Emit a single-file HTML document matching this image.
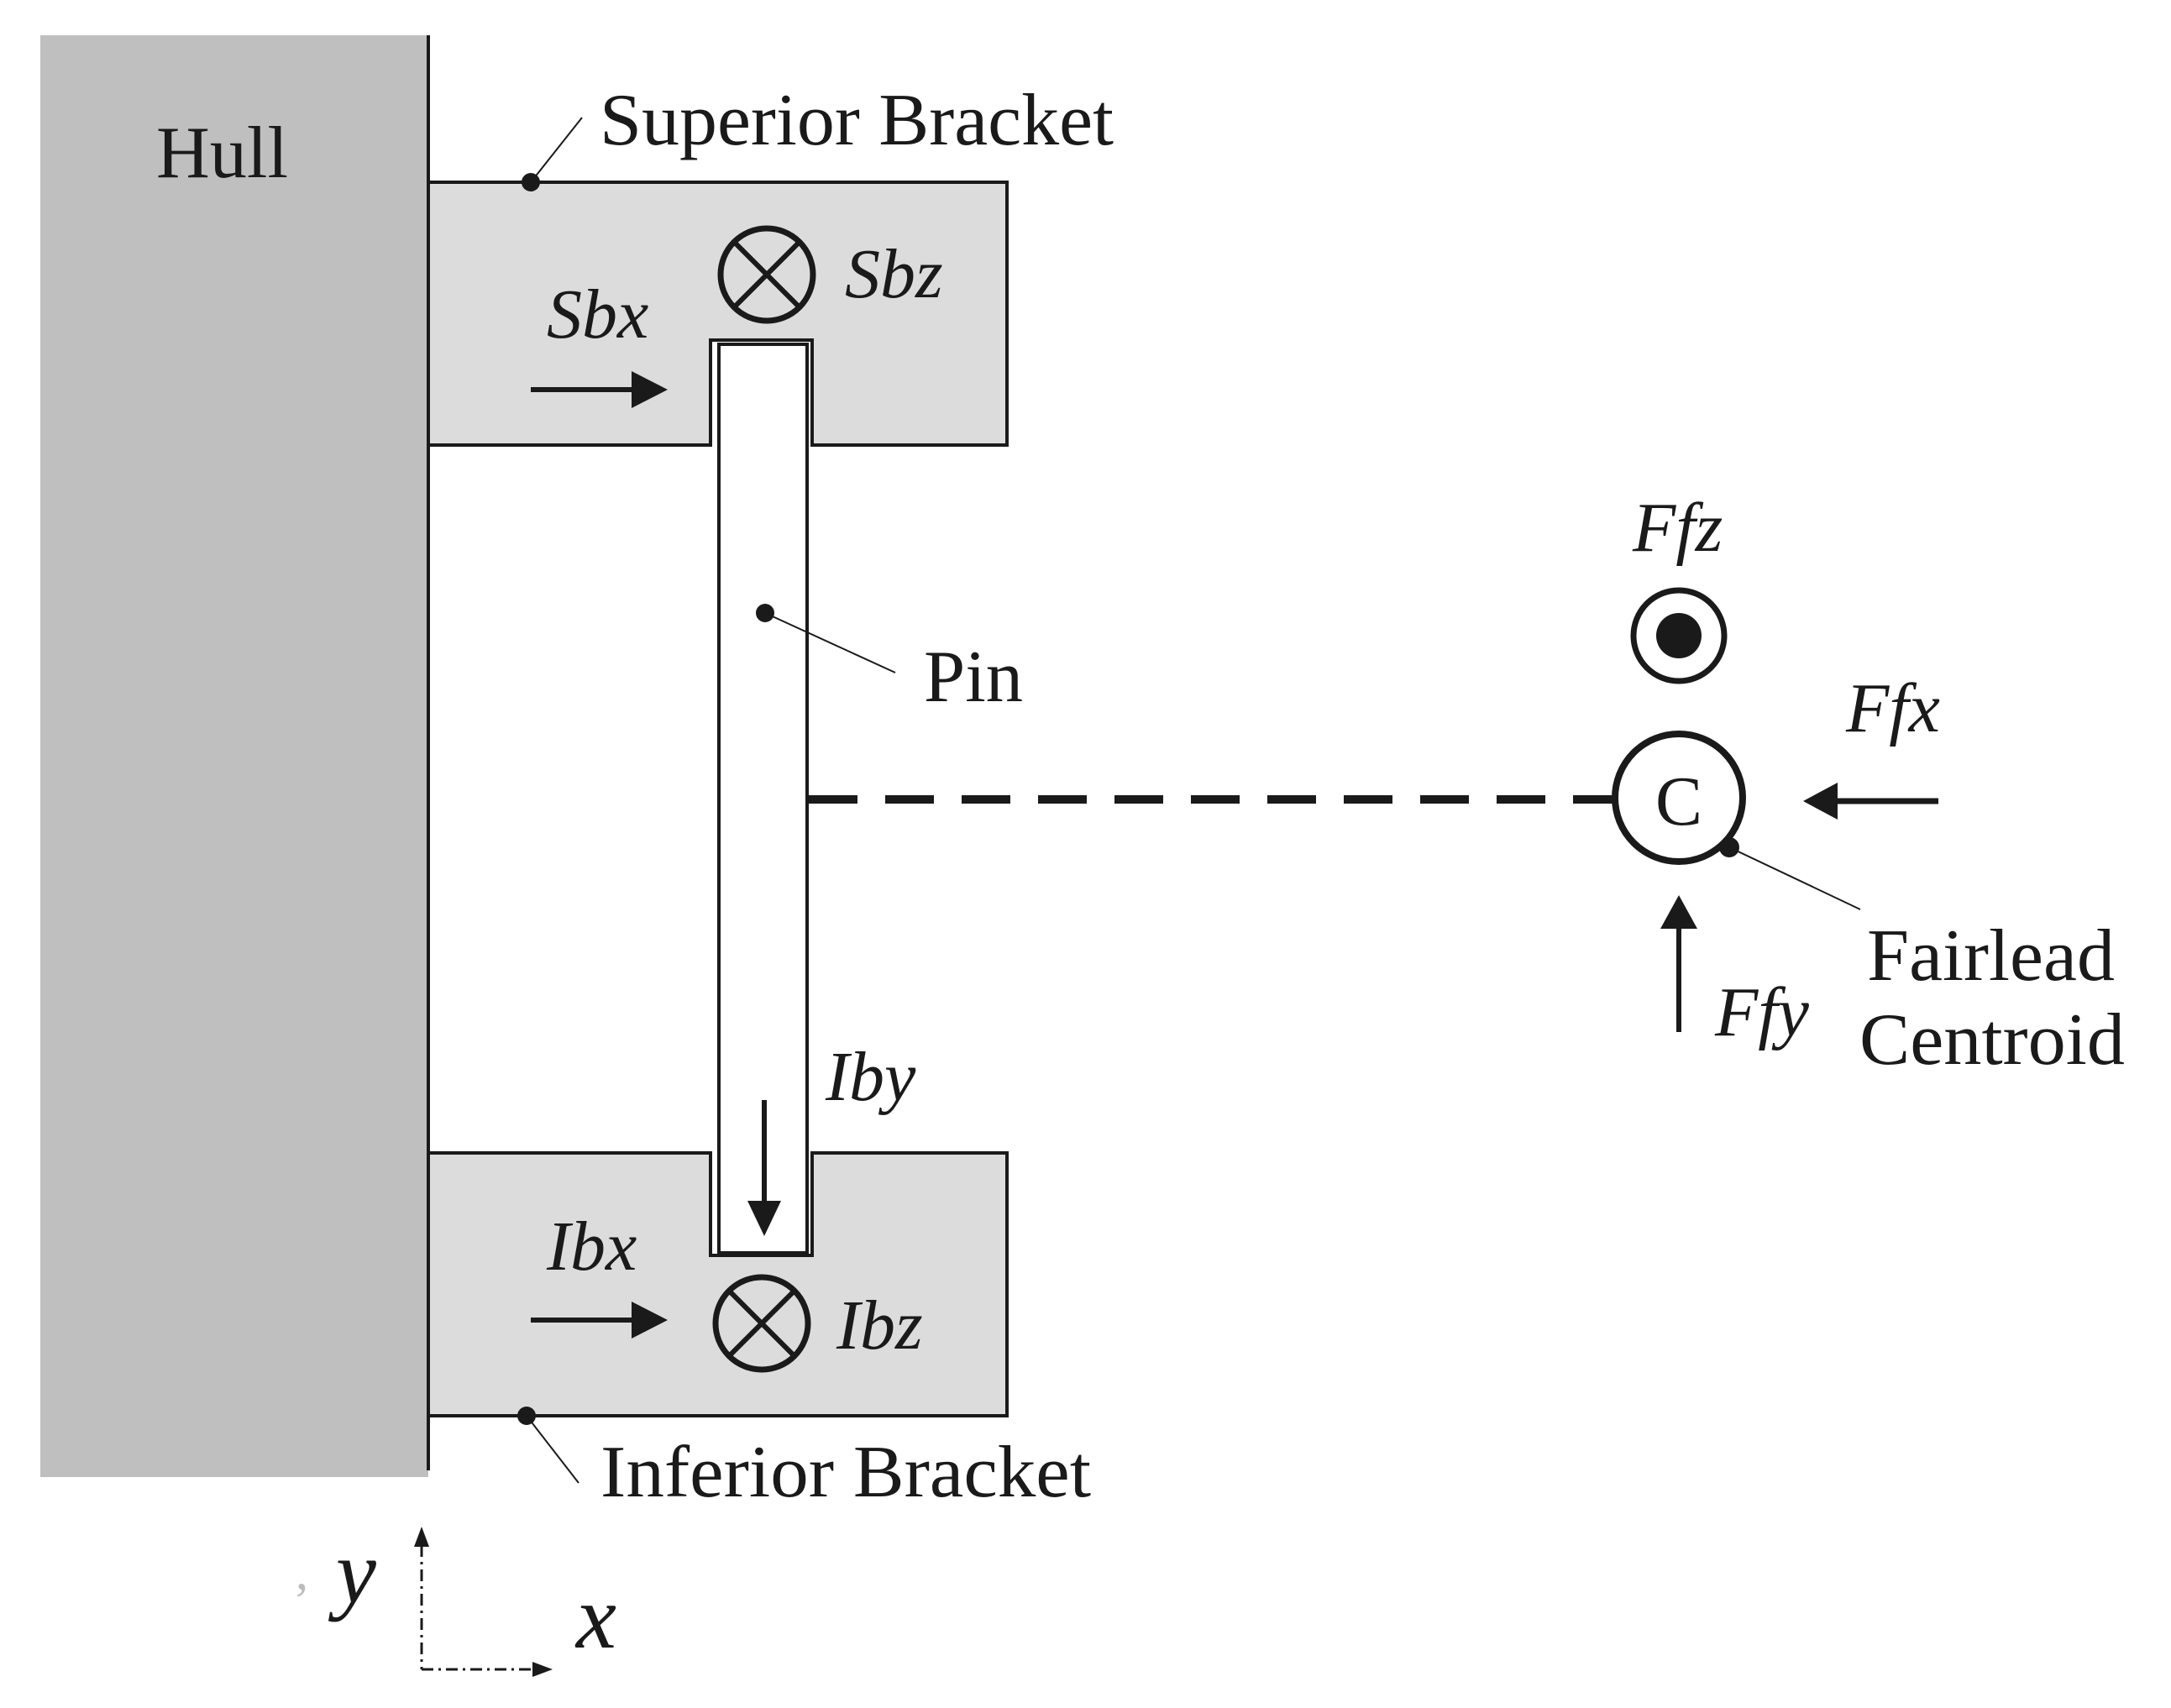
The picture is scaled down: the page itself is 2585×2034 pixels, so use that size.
<!DOCTYPE html>
<html><head><meta charset="utf-8"><style>html,body{margin:0;padding:0;background:#fff}svg{display:block}</style></head>
<body>
<svg width="2585" height="2034" viewBox="0 0 2585 2034" xmlns="http://www.w3.org/2000/svg" font-family="'Liberation Serif', serif" fill="#1a1a1a">
<rect x="48" y="42" width="462" height="1717" fill="#bfbfbf"/>
<line x1="510" y1="42" x2="510" y2="1751" stroke="#1a1a1a" stroke-width="4"/>
<text x="186" y="211" font-size="88" textLength="157" lengthAdjust="spacingAndGlyphs">Hull</text>
<path d="M510 217 H1199 V530 H967 V405 H846 V530 H510 Z" fill="#dcdcdc" stroke="#1a1a1a" stroke-width="4"/>
<path d="M510 1373 H846 V1495 H967 V1373 H1199 V1686 H510 Z" fill="#dcdcdc" stroke="#1a1a1a" stroke-width="4"/>
<rect x="856" y="410" width="105" height="1082" fill="#fff" stroke="#1a1a1a" stroke-width="4"/>
<line x1="963" y1="952" x2="1922" y2="952" stroke="#1a1a1a" stroke-width="10" stroke-dasharray="58 33"/>
<circle cx="632" cy="217" r="11"/>
<line x1="632" y1="217" x2="693" y2="140" stroke="#1a1a1a" stroke-width="2"/>
<text x="714" y="172" font-size="88" textLength="612" lengthAdjust="spacingAndGlyphs">Superior Bracket</text>
<circle cx="627" cy="1686" r="11"/>
<line x1="627" y1="1686" x2="689" y2="1766" stroke="#1a1a1a" stroke-width="2"/>
<text x="715" y="1782" font-size="88" textLength="584" lengthAdjust="spacingAndGlyphs">Inferior Bracket</text>
<circle cx="911" cy="730" r="11"/>
<line x1="911" y1="730" x2="1066" y2="801" stroke="#1a1a1a" stroke-width="2"/>
<text x="1100" y="835" font-size="88" textLength="118" lengthAdjust="spacingAndGlyphs">Pin</text>
<circle cx="913" cy="327" r="55" fill="none" stroke="#1a1a1a" stroke-width="7"/>
<line x1="874" y1="288" x2="952" y2="366" stroke="#1a1a1a" stroke-width="6"/>
<line x1="952" y1="288" x2="874" y2="366" stroke="#1a1a1a" stroke-width="6"/>
<text x="1006" y="354" font-size="84" font-style="italic">Sbz</text>
<text x="651" y="402" font-size="84" font-style="italic">Sbx</text>
<line x1="632" y1="464" x2="760" y2="464" stroke="#1a1a1a" stroke-width="6"/>
<polygon points="752,442 795,464 752,486"/>
<text x="983" y="1310" font-size="84" font-style="italic">Iby</text>
<line x1="910" y1="1310" x2="910" y2="1440" stroke="#1a1a1a" stroke-width="6"/>
<polygon points="890,1430 910,1472 930,1430"/>
<text x="651" y="1512" font-size="84" font-style="italic">Ibx</text>
<line x1="632" y1="1572" x2="760" y2="1572" stroke="#1a1a1a" stroke-width="6"/>
<polygon points="752,1550 795,1572 752,1594"/>
<circle cx="907" cy="1576" r="55" fill="none" stroke="#1a1a1a" stroke-width="7"/>
<line x1="868" y1="1537" x2="946" y2="1615" stroke="#1a1a1a" stroke-width="6"/>
<line x1="946" y1="1537" x2="868" y2="1615" stroke="#1a1a1a" stroke-width="6"/>
<text x="996" y="1606" font-size="84" font-style="italic">Ibz</text>
<text x="1944" y="656" font-size="84" font-style="italic">Ffz</text>
<circle cx="1999" cy="757" r="54" fill="none" stroke="#1a1a1a" stroke-width="7"/>
<circle cx="1999" cy="757" r="27"/>
<circle cx="1999" cy="950" r="76" fill="#fff" stroke="#1a1a1a" stroke-width="8"/>
<text x="1999" y="982" font-size="84" text-anchor="middle">C</text>
<circle cx="2059" cy="1009" r="12"/>
<line x1="2059" y1="1009" x2="2215" y2="1083" stroke="#1a1a1a" stroke-width="2"/>
<text x="2223" y="1167" font-size="88" textLength="295" lengthAdjust="spacingAndGlyphs">Fairlead</text>
<text x="2214" y="1267" font-size="88" textLength="316" lengthAdjust="spacingAndGlyphs">Centroid</text>
<text x="2198" y="871" font-size="84" font-style="italic">Ffx</text>
<line x1="2180" y1="954" x2="2308" y2="954" stroke="#1a1a1a" stroke-width="7"/>
<polygon points="2147,954 2188,932 2188,976"/>
<line x1="1999" y1="1229" x2="1999" y2="1100" stroke="#1a1a1a" stroke-width="6"/>
<polygon points="1999,1066 1977,1106 2021,1106"/>
<text x="2042" y="1233" font-size="84" font-style="italic">Ffy</text>
<line x1="502" y1="1840" x2="502" y2="1988" stroke="#1a1a1a" stroke-width="3" stroke-dasharray="14 6 3 6"/>
<polygon points="502,1818 493,1842 511,1842"/>
<line x1="502" y1="1988" x2="636" y2="1988" stroke="#1a1a1a" stroke-width="3" stroke-dasharray="14 6 3 6"/>
<polygon points="658,1988 634,1979 634,1997"/>
<text x="400" y="1908" font-size="108" font-style="italic">y</text>
<text x="686" y="1962" font-size="108" font-style="italic">x</text>
<text x="352" y="1892" font-size="60" fill="#bbb">,</text>
</svg>
</body></html>
